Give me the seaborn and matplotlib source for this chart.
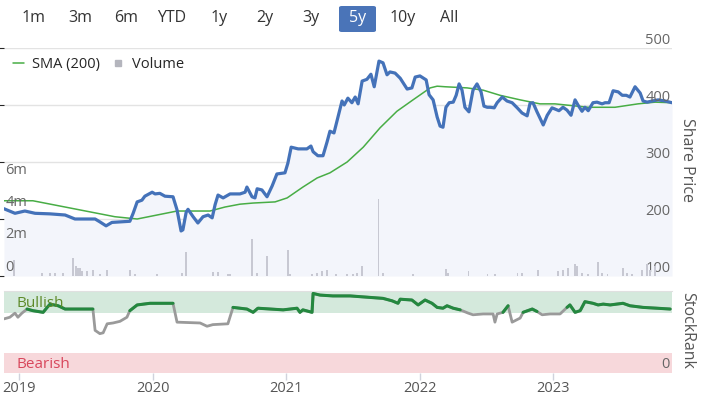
import seaborn as sns
import matplotlib.pyplot as plt
import matplotlib.transforms as mtransforms
from matplotlib.lines import Line2D
from matplotlib.patches import FancyBboxPatch
import numpy as np
import pandas as pd

# share price
price_dates = ['2018-11-21', '2018-12-21', '2019-01-17', '2019-02-14', '2019-03-27', '2019-05-07',
               '2019-06-03', '2019-07-28', '2019-08-10', '2019-08-27', '2019-09-12', '2019-10-31',
               '2019-11-09', '2019-11-20', '2019-12-03', '2019-12-11', '2019-12-31', '2020-01-08',
               '2020-01-21', '2020-02-04', '2020-02-26', '2020-03-08', '2020-03-19', '2020-03-24',
               '2020-04-02', '2020-04-07', '2020-04-21', '2020-05-04', '2020-05-18', '2020-06-01',
               '2020-06-12', '2020-06-20', '2020-06-28', '2020-07-12', '2020-07-31', '2020-08-27',
               '2020-09-10', '2020-09-15', '2020-09-29', '2020-10-07', '2020-10-13', '2020-10-26',
               '2020-11-09', '2020-11-23', '2020-12-06', '2020-12-28', '2021-01-05', '2021-01-14',
               '2021-02-02', '2021-02-26', '2021-03-09', '2021-03-15', '2021-03-28', '2021-04-11',
               '2021-04-22', '2021-04-30', '2021-05-11', '2021-05-22', '2021-06-02', '2021-06-08',
               '2021-06-18', '2021-06-29', '2021-07-08', '2021-07-16', '2021-07-27', '2021-08-09',
               '2021-08-20', '2021-08-29', '2021-09-11', '2021-09-22', '2021-10-03', '2021-10-11',
               '2021-10-25', '2021-11-08', '2021-11-16', '2021-11-27', '2021-12-10', '2021-12-19',
               '2022-01-01', '2022-01-18', '2022-01-26', '2022-02-06', '2022-02-17', '2022-02-25',
               '2022-03-05', '2022-03-13', '2022-03-22', '2022-04-02', '2022-04-10', '2022-04-18',
               '2022-04-26', '2022-05-04', '2022-05-15', '2022-05-26', '2022-06-06', '2022-06-17',
               '2022-06-25', '2022-07-04', '2022-07-12', '2022-07-23', '2022-07-31', '2022-08-14',
               '2022-08-27', '2022-09-10', '2022-09-24', '2022-10-07', '2022-10-21', '2022-10-29',
               '2022-11-06', '2022-11-17', '2022-11-25', '2022-12-04', '2022-12-15', '2022-12-28',
               '2023-01-05', '2023-01-16', '2023-01-27', '2023-02-07', '2023-02-18', '2023-03-01',
               '2023-03-09', '2023-03-20', '2023-03-28', '2023-04-06', '2023-04-19', '2023-04-30',
               '2023-05-14', '2023-05-22', '2023-06-02', '2023-06-13', '2023-06-27', '2023-07-08',
               '2023-07-19', '2023-07-29', '2023-08-12', '2023-08-26', '2023-09-03', '2023-09-14',
               '2023-09-28', '2023-10-14', '2023-11-02', '2023-11-21']
price = [218, 210, 214, 210, 209, 207,
         200, 200, 195, 188, 194, 196,
         210, 230, 233, 240, 247, 244,
         245, 240, 239, 216, 179, 181,
         212, 217, 204, 193, 204, 207,
         202, 225, 242, 237, 244, 244,
         247, 256, 239, 237, 253, 251,
         239, 258, 279, 281, 298, 326,
         323, 323, 328, 318, 311, 311,
         335, 354, 351, 379, 407, 400,
         412, 404, 414, 402, 442, 445,
         454, 432, 477, 474, 453, 458,
         456, 447, 439, 428, 430, 449,
         451, 444, 418, 409, 379, 363,
         361, 396, 404, 405, 417, 437,
         426, 396, 388, 426, 437, 423,
         398, 396, 396, 395, 404, 414,
         407, 404, 395, 386, 381, 403,
         404, 388, 377, 365, 382, 395,
         393, 390, 396, 391, 382, 409,
         400, 389, 396, 390, 404, 405,
         402, 404, 404, 425, 423, 417,
         417, 414, 432, 421, 407, 405,
         407, 409, 407, 404]

# 200 day moving average
sma_dates = ['2018-11-21', '2019-02-08', '2019-09-20', '2019-11-20', '2020-03-08', '2020-06-06',
             '2020-07-17', '2020-08-27', '2020-10-02', '2020-12-01', '2021-01-03', '2021-02-15',
             '2021-03-26', '2021-04-30', '2021-06-16', '2021-07-30', '2021-09-14', '2021-10-30',
             '2021-12-13', '2022-01-29', '2022-02-17', '2022-03-11', '2022-05-10', '2022-06-23',
             '2022-08-08', '2022-10-02', '2022-11-25', '2023-01-05', '2023-04-06', '2023-06-18',
             '2023-08-20', '2023-10-06', '2023-11-21']
sma = [232, 232, 204, 200, 214, 214,
       221, 226, 228, 230, 237, 256,
       272, 281, 300, 326, 360, 389,
       409, 430, 433, 432, 430, 426,
       417, 409, 402, 402, 396, 396,
       402, 405, 404]

# volume, millions
vol_dates = ['2018-12-18', '2019-03-05', '2019-03-27', '2019-04-09', '2019-05-01', '2019-05-29',
             '2019-06-06', '2019-06-11', '2019-06-17', '2019-06-22', '2019-07-06', '2019-07-22',
             '2019-08-10', '2019-08-30', '2019-10-31', '2019-11-14', '2020-01-13', '2020-03-22',
             '2020-04-02', '2020-06-14', '2020-06-28', '2020-07-25', '2020-07-31', '2020-09-29',
             '2020-10-13', '2020-11-09', '2021-01-05', '2021-01-11', '2021-03-12', '2021-03-26',
             '2021-04-08', '2021-04-22', '2021-05-17', '2021-06-16', '2021-07-02', '2021-07-13',
             '2021-07-27', '2021-09-09', '2021-09-22', '2021-12-13', '2022-03-13', '2022-03-19',
             '2022-05-13', '2022-07-04', '2022-07-25', '2022-09-24', '2022-10-07', '2022-11-20',
             '2023-01-14', '2023-01-27', '2023-02-10', '2023-03-01', '2023-03-06', '2023-03-20',
             '2023-04-06', '2023-05-03', '2023-05-14', '2023-05-28', '2023-07-10', '2023-07-21',
             '2023-08-04', '2023-08-31', '2023-09-14', '2023-09-22', '2023-10-06']
volume = [1.0, 0.2, 0.2, 0.2, 0.2, 1.1,
          0.65, 0.5, 0.5, 0.3, 0.3, 0.4,
          0.15, 0.4, 0.35, 0.15, 0.15, 0.2,
          1.5, 0.25, 0.25, 0.15, 0.15, 2.3,
          0.2, 1.25, 1.6, 0.15, 0.15, 0.2,
          0.3, 0.4, 0.15, 0.15, 0.15, 0.2,
          0.65, 4.8, 0.2, 0.1, 0.45, 0.2,
          0.3, 0.15, 0.15, 0.2, 0.2, 0.4,
          0.3, 0.4, 0.5, 0.75, 0.6, 0.2,
          0.15, 0.9, 0.2, 0.15, 0.5, 0.2,
          0.15, 0.4, 0.75, 0.4, 0.6]

# StockRank
rank_dates = ['2018-11-21', '2018-12-07', '2018-12-21', '2018-12-29', '2019-01-09', '2019-01-23',
              '2019-02-08', '2019-03-08', '2019-03-19', '2019-03-27', '2019-04-18', '2019-05-07',
              '2019-06-17', '2019-07-22', '2019-07-28', '2019-08-10', '2019-08-19', '2019-08-30',
              '2019-09-15', '2019-10-04', '2019-10-23', '2019-10-31', '2019-11-20', '2019-12-25',
              '2020-02-26', '2020-03-08', '2020-05-10', '2020-05-29', '2020-06-14', '2020-07-25',
              '2020-08-08', '2020-09-15', '2020-10-02', '2020-10-15', '2020-12-23', '2021-01-30',
              '2021-02-07', '2021-02-15', '2021-03-12', '2021-03-15', '2021-04-03', '2021-05-08',
              '2021-06-24', '2021-09-22', '2021-10-17', '2021-11-02', '2021-11-08', '2021-12-10',
              '2021-12-27', '2022-01-15', '2022-02-03', '2022-02-17', '2022-03-05', '2022-03-16',
              '2022-04-02', '2022-04-21', '2022-05-13', '2022-05-26', '2022-06-23', '2022-07-12',
              '2022-07-20', '2022-07-25', '2022-07-31', '2022-08-16', '2022-08-30', '2022-09-10',
              '2022-10-02', '2022-10-10', '2022-11-04', '2022-11-17', '2022-12-01', '2022-12-23',
              '2023-01-11', '2023-01-19', '2023-02-07', '2023-02-15', '2023-03-01', '2023-03-15',
              '2023-03-28', '2023-04-19', '2023-05-03', '2023-05-17', '2023-06-05', '2023-07-10',
              '2023-07-29', '2023-09-03', '2023-10-11', '2023-11-16']
rank = [66, 68, 73, 68, 73, 78,
        76, 74, 80, 84, 82, 78,
        78, 78, 52, 48, 49, 60,
        61, 63, 68, 76, 83, 85,
        85, 62, 61, 57, 59, 60,
        80, 78, 74, 79, 77, 79,
        74, 77, 74, 97, 95, 94,
        94, 91, 88, 85, 90, 89,
        83, 89, 85, 80, 79, 82,
        79, 77, 73, 71, 72, 72,
        72, 62, 72, 74, 82, 62,
        67, 74, 78, 75, 71, 72,
        72, 72, 80, 83, 74, 76,
        87, 85, 83, 84, 83, 85,
        82, 80, 79, 78]

buttons = ['1m', '3m', '6m', 'YTD', '1y', '2y', '3y', '5y', '10y', 'All']
vol_ticks = [0, 2, 4, 6]
vol_tick_labels = ['0', '2m', '4m', '6m']
price_ticks = [100, 200, 300, 400, 500]
years = ['2019', '2020', '2021', '2022', '2023']

sns.set_style('white')
plt.rcParams['font.family'] = ['Open Sans', 'DejaVu Sans']

W, H = 701, 397
fig = plt.figure(figsize=(W / 100, H / 100), dpi=100)
fig.patch.set_facecolor('white')

def box(x0, y0, x1, y1):
    return [x0 / W, 1 - y1 / H, (x1 - x0) / W, (y1 - y0) / H]

pdf = pd.DataFrame({'date': pd.to_datetime(price_dates), 'price': price})
sdf = pd.DataFrame({'date': pd.to_datetime(sma_dates), 'sma': sma})
vdf = pd.DataFrame({'date': pd.to_datetime(vol_dates), 'volume': volume})
rdf = pd.DataFrame({'date': pd.to_datetime(rank_dates), 'rank': rank})
xmin, xmax = pd.Timestamp('2018-11-21'), pd.Timestamp('2023-11-21')

# main price panel
ax = fig.add_axes(box(4, 48, 672, 276))
ax.set_facecolor('white')
ax.fill_between(pdf['date'], pdf['price'], 100, color='#f3f5fb', lw=0, zorder=1)
sns.lineplot(data=sdf, x='date', y='sma', ax=ax, color='#48ad45', lw=1.1, zorder=3)
sns.lineplot(data=pdf, x='date', y='price', ax=ax, color='#4472b9', lw=2.3, zorder=4)
ax.set_xlim(xmin, xmax)
ax.set_ylim(100, 500)
ax.set_yticks(price_ticks)
ax.yaxis.grid(True, color='#e3e3e3', lw=1)
ax.tick_params(left=False, bottom=False, labelleft=False, labelbottom=False)
ax.set_xlabel('')
ax.set_ylabel('')
for s in ax.spines.values():
    s.set_visible(False)
trans = mtransforms.blended_transform_factory(ax.transAxes, ax.transData)
for t in price_ticks:
    ax.annotate(str(t), (1.0, t), xycoords=trans, xytext=(-1, 0), textcoords='offset points',
                ha='right', va='bottom', fontsize=10.5, color='#666666', zorder=6)

# volume bars on twin axis
axv = ax.twinx()
axv.bar(vdf['date'], vdf['volume'], width=4, color='#c7c8d2', lw=0, zorder=2)
axv.set_ylim(0, 14.2)
axv.set_xlim(xmin, xmax)
axv.axis('off')
transv = mtransforms.blended_transform_factory(axv.transAxes, axv.transData)
for t, lab in zip(vol_ticks, vol_tick_labels):
    axv.annotate(lab, (0.0, t), xycoords=transv, xytext=(1, 1), textcoords='offset points',
                 ha='left', va='bottom', fontsize=10.5, color='#666666')

handles = [Line2D([], [], color='#48ad45', lw=1.1),
           Line2D([], [], color='#b4b5bd', marker='s', ls='', markersize=5)]
ax.legend(handles, ['SMA (200)', 'Volume'], loc='upper left', bbox_to_anchor=(0.0, 1.0),
          ncol=2, frameon=False, fontsize=10.5, handlelength=0.8, handletextpad=0.55,
          columnspacing=0.8, borderaxespad=0.3, borderpad=0.3)

fig.text(687 / W, 1 - 160 / H, 'Share Price', rotation=270, ha='center', va='center',
         fontsize=11.5, color='#555555')

# StockRank panel
axr = fig.add_axes(box(4, 291, 672, 373))
axr.axhspan(73, 100, color='#d4e9dc', lw=0, zorder=0)
axr.axhspan(0, 24, color='#f7d8db', lw=0, zorder=0)
sns.lineplot(data=rdf, x='date', y='rank', ax=axr, color='#9a9a9a', lw=2.0, zorder=3)
green = np.where(np.array(rank) >= 73.5, rank, np.nan)
axr.plot(rdf['date'], green, color='#24883f', lw=2.2, zorder=4)
axr.set_xlim(xmin, xmax)
axr.set_ylim(0, 100)
axr.set_xlabel('')
axr.set_ylabel('')
axr.set_yticks([])
axr.set_xticks(pd.to_datetime([y + '-01-01' for y in years]))
axr.set_xticklabels(years)
axr.tick_params(axis='x', bottom=True, length=5, width=1, color='#d0d3dc', labelsize=10.5,
                labelcolor='#555555', pad=1)
for k, s in axr.spines.items():
    s.set_visible(k == 'top')
axr.spines['top'].set_color('#e0e0e0')
trr = mtransforms.blended_transform_factory(axr.transAxes, axr.transData)
axr.text(0.018, 85, 'Bullish', transform=trr, ha='left', va='center', fontsize=11,
         color='#5e8a2a', zorder=5)
axr.text(0.018, 10, 'Bearish', transform=trr, ha='left', va='center', fontsize=11,
         color='#d8475c', zorder=5)
axr.text(0.997, 10, '0', transform=trr, ha='right', va='center', fontsize=10.5,
         color='#666666', zorder=5)
fig.text(687 / W, 1 - 330 / H, 'StockRank', rotation=270, ha='center', va='center',
         fontsize=11.5, color='#555555')

# range selector buttons
btn_x = [34, 80, 126, 172, 219, 265, 311, 358, 403, 449]
fig.patches.append(FancyBboxPatch((339 / W, 1 - 32 / H), 37 / W, 26 / H,
                                  boxstyle='round,pad=0,rounding_size=0.004',
                                  transform=fig.transFigure, facecolor='#4a74b8', edgecolor='none'))
for b, x in zip(buttons, btn_x):
    fig.text(x / W, 1 - 18 / H, b, ha='center', va='center', fontsize=11.5,
             color='white' if b == '5y' else '#333333')

fig.savefig('out.png', dpi=100)
